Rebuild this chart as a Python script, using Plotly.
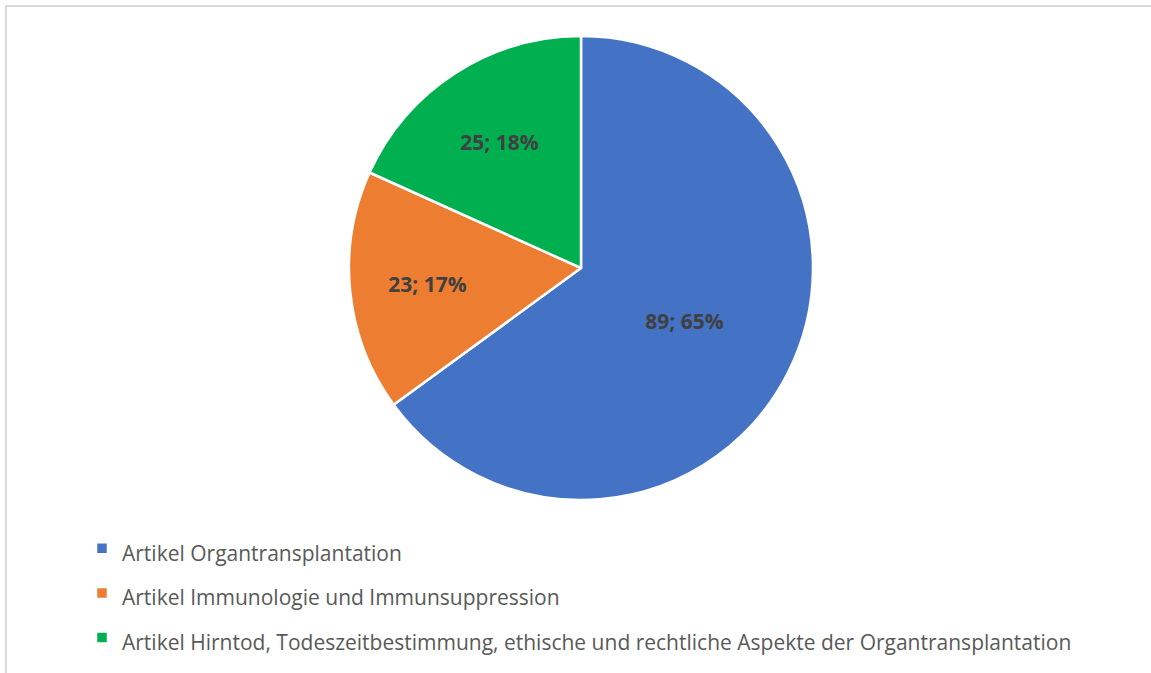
import plotly.graph_objects as go

categories = [
    "Artikel Organtransplantation",
    "Artikel Immunologie und Immunsuppression",
    "Artikel Hirntod, Todeszeitbestimmung, ethische und rechtliche Aspekte der Organtransplantation",
]
values = [89, 23, 25]
colors = ["#4472C4", "#ED7D31", "#00B050"]

W, H = 1151, 673
legend_names = [f"<span style='font-size:21px'>{c}</span>" for c in categories]

fig = go.Figure(go.Pie(
    labels=legend_names,
    values=values,
    sort=False,
    direction="clockwise",
    rotation=0,
    marker=dict(colors=colors, line=dict(color="white", width=2.5)),
    texttemplate="%{value}; %{percent:.0%}",
    textposition="inside",
    insidetextorientation="horizontal",
    textfont=dict(family="Open Sans", size=21, color="#404040", weight="bold"),
    domain=dict(x=[349 / W, 813 / W], y=[1 - 500 / H, 1 - 36 / H]),
    hoverinfo="skip",
))

fig.update_layout(
    width=W, height=H,
    margin=dict(l=0, r=0, t=0, b=0),
    paper_bgcolor="white",
    plot_bgcolor="white",
    font=dict(family="Open Sans", color="#595959"),
    showlegend=True,
    legend=dict(
        orientation="v",
        x=82 / W, xanchor="left",
        y=1 - 521 / H, yanchor="top",
        font=dict(family="Open Sans", size=32, color="#595959"),
        bgcolor="rgba(0,0,0,0)",
        traceorder="normal",
    ),
    shapes=[
        dict(type="line", xref="paper", yref="paper", x0=5 / W, x1=1, y0=1 - 6 / H, y1=1 - 6 / H,
             line=dict(color="#D9D9D9", width=2)),
        dict(type="line", xref="paper", yref="paper", x0=6 / W, x1=6 / W, y0=0, y1=1 - 5 / H,
             line=dict(color="#D9D9D9", width=2)),
    ],
)

fig.write_html(
    "out.html",
    config={"displayModeBar": False},
    post_script="document.body.style.margin='0';document.body.style.padding='0';",
)
